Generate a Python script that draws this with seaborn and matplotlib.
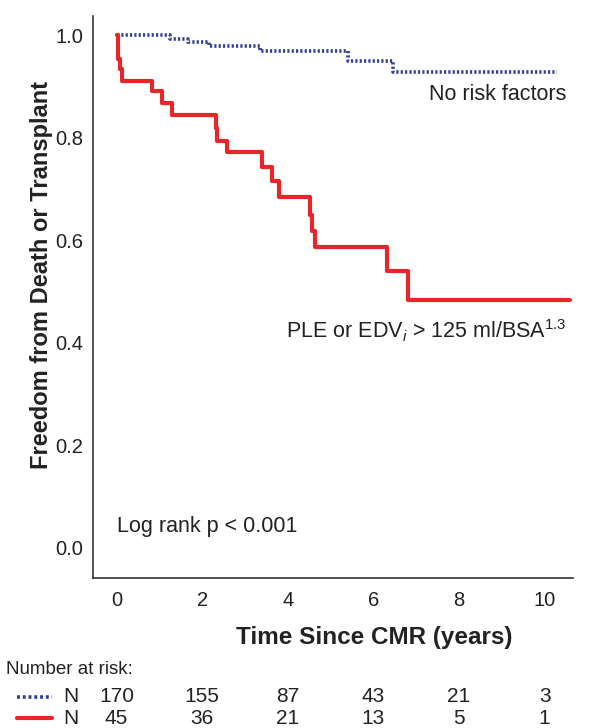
import numpy as np
import pandas as pd
import matplotlib
matplotlib.use("Agg")
import matplotlib.pyplot as plt
import matplotlib.transforms as mtransforms
from matplotlib.lines import Line2D
import seaborn as sns

# step curves: (time of drop, survival after drop)
none_times = [0.0, 1.25, 1.67, 2.16, 3.35, 5.40, 6.46, 10.29]
none_surv = [1.0, 0.993, 0.987, 0.980, 0.970, 0.951, 0.929, 0.929]

risk_times = [0.0, 0.03, 0.08, 0.12, 0.82, 1.07, 1.29, 2.32, 2.35, 2.59, 3.40,
              3.64, 3.79, 4.53, 4.56, 4.63, 6.32, 6.81, 10.6]
risk_surv = [1.0, 0.955, 0.935, 0.912, 0.891, 0.868, 0.845, 0.819, 0.795, 0.772,
             0.744, 0.716, 0.685, 0.650, 0.619, 0.588, 0.541, 0.483, 0.483]

risk_ticks = [0, 2, 4, 6, 8, 10]
n_none = [170, 155, 87, 43, 21, 3]
n_risk = [45, 36, 21, 13, 5, 1]

blue = "#2E3F8F"
red = "#E8262A"
txt = "#222222"

sns.set_style("white")
plt.rcParams["font.family"] = ["Liberation Sans", "DejaVu Sans"]
plt.rcParams["mathtext.fontset"] = "custom"
plt.rcParams["mathtext.rm"] = "Liberation Sans"
plt.rcParams["mathtext.it"] = "Liberation Sans:italic"

df_none = pd.DataFrame({"t": none_times, "s": none_surv})
df_risk = pd.DataFrame({"t": risk_times, "s": risk_surv})

fig = plt.figure(figsize=(6.02, 7.28), dpi=100)
ax = fig.add_axes([0.1545, 0.206, 0.7965, 0.772])

sns.lineplot(data=df_none, x="t", y="s", ax=ax, color=blue, linewidth=2.6,
             linestyle=(0, (0.6, 0.6)), drawstyle="steps-post", sort=False)
sns.lineplot(data=df_risk, x="t", y="s", ax=ax, color=red, linewidth=3,
             drawstyle="steps-post", sort=False)

ax.set_xlim(-0.55, 10.65)
ax.set_ylim(-0.0586, 1.038)
ax.set_xticks(risk_ticks)
ax.set_yticks(np.arange(0, 1.01, 0.2))
ax.set_yticklabels([f"{v:.1f}" for v in np.arange(0, 1.01, 0.2)])
ax.tick_params(axis="x", direction="in", length=8, width=1.2, labelsize=14.5,
               pad=9, colors="#333333", labelcolor=txt)
ax.tick_params(axis="y", direction="out", length=5, width=1.2, labelsize=14.5,
               pad=2, colors="#333333", labelcolor=txt)
for side in ["top", "right"]:
    ax.spines[side].set_visible(False)
for side in ["left", "bottom"]:
    ax.spines[side].set_color("#333333")
    ax.spines[side].set_linewidth(1.2)

ax.set_xlabel("Time Since CMR (years)", fontsize=17.5, fontweight="bold", color=txt)
ax.set_ylabel("Freedom from Death or Transplant", fontsize=17, fontweight="bold", color=txt)
ax.xaxis.set_label_coords(0.586, -0.085)
ax.yaxis.set_label_coords(-0.083, 0.539)

ax.text(10.5, 0.885, "No risk factors", ha="right", va="center", fontsize=15.5, color=txt)
ax.text(10.52, 0.424, r"PLE or EDV$_{i}$ > 125 ml/BSA$^{1.3}$", ha="right",
        va="center", fontsize=15.5, color=txt)
ax.text(0.0, 0.041, "Log rank p < 0.001", ha="left", va="center", fontsize=15.5, color=txt)

# number at risk table
trans = mtransforms.blended_transform_factory(ax.transData, fig.transFigure)
fig.text(0.01, 0.080, "Number at risk:", ha="left", va="center", fontsize=13.5, color=txt)
for y, counts in [(0.0426, n_none), (0.0137, n_risk)]:
    fig.text(0.118, y, "N", ha="center", va="center", fontsize=15, color=txt)
    for t, n in zip(risk_ticks, counts):
        ax.text(t, y, str(n), transform=trans, ha="center", va="center",
                fontsize=15, color=txt, clip_on=False)
fig.add_artist(Line2D([0.028, 0.086], [0.0426, 0.0426], transform=fig.transFigure,
                      color=blue, linewidth=2.6, linestyle=(0, (0.8, 0.8))))
fig.add_artist(Line2D([0.028, 0.086], [0.0137, 0.0137], transform=fig.transFigure,
                      color=red, linewidth=3))

fig.savefig("out.png", dpi=100)
